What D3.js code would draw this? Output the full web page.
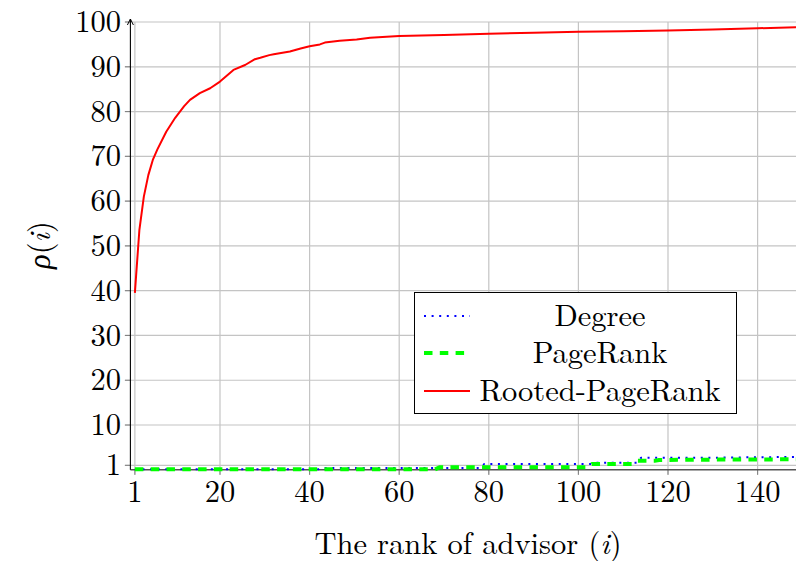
<!DOCTYPE html>
<html>
<head>
<meta charset="utf-8">
<script src="https://cdn.jsdelivr.net/npm/d3@7/dist/d3.min.js"></script>
<style>
  html, body { margin: 0; padding: 0; background: #fff; overflow: hidden; }
  svg { display: block; }
</style>
</head>
<body>
<svg id="chart" width="796" height="561"></svg>
<script>
// ---- data ----
const xTicks = [1, 20, 40, 60, 80, 100, 120, 140];
const yTicks = [1, 10, 20, 30, 40, 50, 60, 70, 80, 90, 100];

const seriesNames = ["Degree", "PageRank", "Rooted-PageRank"];

// Degree (blue dotted)
const degreeRank  = [1, 42, 43, 78, 79, 103, 104, 113, 114, 130, 150];
const degreeValue = [0.1, 0.1, 0.4, 0.4, 1.3, 1.3, 1.6, 1.6, 2.7, 2.7, 2.9];

// PageRank (green dashed)
const pagerankRank  = [1, 68, 69, 102, 103, 112, 113, 117, 118, 135, 150];
const pagerankValue = [0.1, 0.1, 0.55, 0.55, 1.3, 1.3, 2.0, 2.0, 2.2, 2.3, 2.35];

// Rooted-PageRank (red solid)
const rootedRank  = [1, 2, 3, 4, 5, 6, 8, 10, 12, 13.3, 15.5, 17.8, 20, 23, 25.6, 27.8, 29, 31, 32, 35.6, 38, 40, 42.3, 43.4, 46.7, 50.5, 53.5, 57.2, 60, 70, 80, 90, 100, 110, 120, 130, 140, 150];
const rootedValue = [39.5, 53.5, 61, 65.8, 69.2, 71.5, 75.5, 78.6, 81.2, 82.6, 84.1, 85.2, 86.7, 89.3, 90.4, 91.7, 92.0, 92.6, 92.8, 93.4, 94.1, 94.6, 95.0, 95.4, 95.8, 96.1, 96.5, 96.7, 96.9, 97.1, 97.4, 97.6, 97.8, 97.95, 98.1, 98.3, 98.6, 98.85];

// ---- chart ----
const FONT = '"Latin Modern Roman", "Liberation Serif", serif';
const svg = d3.select("#chart");
const xs = d3.scaleLinear().domain([0, 150]).range([130.4, 802.4]);
const ys = d3.scaleLinear().domain([0, 100]).range([469.8, 22]);

const gridColor = "#c4c4c4";
const fontSize = 30.5;

// grid lines
svg.append("g").selectAll("line").data(xTicks).join("line")
  .attr("x1", d => xs(d)).attr("x2", d => xs(d))
  .attr("y1", ys(100)).attr("y2", ys(0) + 5)
  .attr("stroke", gridColor).attr("stroke-width", 1.2);
svg.append("g").selectAll("line").data(yTicks).join("line")
  .attr("x1", xs(0) - 5.5).attr("x2", 800)
  .attr("y1", d => ys(d)).attr("y2", d => ys(d))
  .attr("stroke", gridColor).attr("stroke-width", 1.2);

// small dark tick marks
svg.append("g").selectAll("line").data(yTicks).join("line")
  .attr("x1", xs(0) - 5.5).attr("x2", xs(0))
  .attr("y1", d => ys(d)).attr("y2", d => ys(d))
  .attr("stroke", "#808080").attr("stroke-width", 1);
svg.append("g").selectAll("line").data(xTicks).join("line")
  .attr("x1", d => xs(d)).attr("x2", d => xs(d))
  .attr("y1", ys(0)).attr("y2", ys(0) + 5)
  .attr("stroke", "#808080").attr("stroke-width", 1);

// axes lines
svg.append("line").attr("x1", xs(0)).attr("x2", 800)
  .attr("y1", ys(0)).attr("y2", ys(0))
  .attr("stroke", "#555").attr("stroke-width", 1.4);
svg.append("line").attr("x1", xs(0)).attr("x2", xs(0))
  .attr("y1", ys(0)).attr("y2", ys(100) - 3)
  .attr("stroke", "#000").attr("stroke-width", 1.1);
svg.append("path")
  .attr("d", `M${xs(0) - 3},${ys(100) + 3} L${xs(0)},${ys(100) - 3} L${xs(0) + 3},${ys(100) + 3}`)
  .attr("fill", "none").attr("stroke", "#000").attr("stroke-width", 1);

// tick labels
svg.append("g").selectAll("text").data(yTicks).join("text")
  .attr("x", 121).attr("y", d => ys(d)).attr("dy", "0.33em")
  .attr("text-anchor", "end").attr("font-size", fontSize)
  .style("font-family", FONT)
  .text(d => d);
svg.append("g").selectAll("text").data(xTicks).join("text")
  .attr("x", d => xs(d)).attr("y", 502)
  .attr("text-anchor", "middle").attr("font-size", fontSize)
  .style("font-family", FONT)
  .text(d => d);

// axis titles
const xt = svg.append("text").attr("x", 468).attr("y", 554)
  .attr("text-anchor", "middle").attr("font-size", fontSize)
  .style("font-family", FONT);
xt.append("tspan").text("The rank of advisor (");
xt.append("tspan").attr("font-style", "italic").text("i");
xt.append("tspan").text(")");

const yt = svg.append("text")
  .attr("transform", "translate(50,245) rotate(-90)")
  .attr("text-anchor", "middle").attr("font-size", fontSize)
  .style("font-family", FONT);
yt.append("tspan").attr("font-style", "italic").text("ρ");
yt.append("tspan").text("(");
yt.append("tspan").attr("font-style", "italic").text("i");
yt.append("tspan").text(")");

// series lines
const line = d3.line().x(d => xs(d[0])).y(d => ys(d[1]));
const styles = [
  { color: "#0000ff", width: 2, dash: "2,5.6" },
  { color: "#00ff00", width: 4, dash: "8.5,7.3" },
  { color: "#ff0000", width: 2, dash: null }
];
const series = [
  d3.zip(degreeRank, degreeValue),
  d3.zip(pagerankRank, pagerankValue),
  d3.zip(rootedRank, rootedValue)
];
const plot = svg.append("g");
series.forEach((s, i) => {
  plot.append("path").attr("d", line(s))
    .attr("fill", "none")
    .attr("stroke", styles[i].color)
    .attr("stroke-width", styles[i].width)
    .attr("stroke-dasharray", styles[i].dash)
    .attr("stroke-linejoin", "round");
});

// legend
const lg = svg.append("g");
lg.append("rect").attr("x", 414.5).attr("y", 292.5).attr("width", 322).attr("height", 121)
  .attr("fill", "#fff").attr("stroke", "#000").attr("stroke-width", 1);
const rowY = [316, 353, 391];
seriesNames.forEach((n, i) => {
  lg.append("line").attr("x1", 424).attr("x2", 470)
    .attr("y1", rowY[i]).attr("y2", rowY[i])
    .attr("stroke", styles[i].color)
    .attr("stroke-width", styles[i].width)
    .attr("stroke-dasharray", styles[i].dash);
  lg.append("text").attr("x", 600).attr("y", rowY[i]).attr("dy", "0.33em")
    .attr("text-anchor", "middle").attr("font-size", fontSize)
    .style("font-family", FONT).text(n);
});
</script>
</body>
</html>
